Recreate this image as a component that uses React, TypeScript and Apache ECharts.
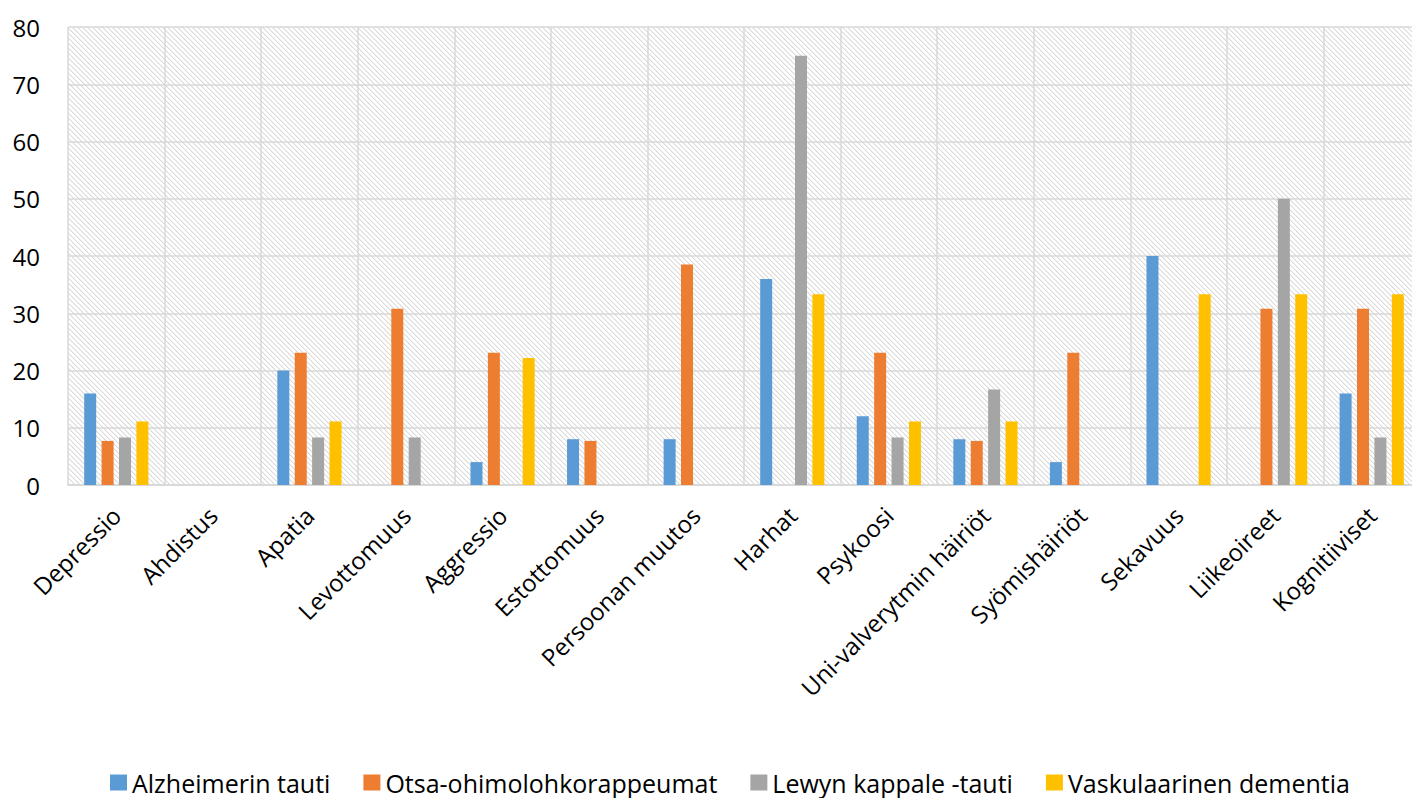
import React, { useEffect, useRef } from "react";
import * as echarts from "echarts";

const categories = [
  "Depressio",
  "Ahdistus",
  "Apatia",
  "Levottomuus",
  "Aggressio",
  "Estottomuus",
  "Persoonan muutos",
  "Harhat",
  "Psykoosi",
  "Uni-valverytmin häiriöt",
  "Syömishäiriöt",
  "Sekavuus",
  "Liikeoireet",
  "Kognitiiviset",
];

const seriesNames = [
  "Alzheimerin tauti",
  "Otsa-ohimolohkorappeumat",
  "Lewyn kappale -tauti",
  "Vaskulaarinen dementia",
];

const alzheimer = [16, 0, 20, 0, 4, 8, 8, 36, 12, 8, 4, 40, 0, 16];
const otsa = [7.7, 0, 23.1, 30.8, 23.1, 7.7, 38.5, 0, 23.1, 7.7, 23.1, 0, 30.8, 30.8];
const lewy = [8.3, 0, 8.3, 8.3, 0, 0, 0, 75, 8.3, 16.7, 0, 0, 50, 8.3];
const vaskulaarinen = [11.1, 0, 11.1, 0, 22.2, 0, 0, 33.3, 11.1, 11.1, 0, 33.3, 33.3, 33.3];

const yTicks = [0, 10, 20, 30, 40, 50, 60, 70, 80];

const colors = ["#5B9BD5", "#ED7D31", "#A5A5A5", "#FFC000"];

function makePattern(): string {
  const n = 5;
  const c = document.createElement("canvas");
  c.width = n;
  c.height = n;
  const ctx = c.getContext("2d")!;
  ctx.fillStyle = "#ffffff";
  ctx.fillRect(0, 0, n, n);
  for (let y = 0; y < n; y++) {
    for (let x = 0; x < n; x++) {
      const d = (((x - y) % n) + n) % n;
      if (d === 0) {
        ctx.fillStyle = "#dadada";
        ctx.fillRect(x, y, 1, 1);
      } else if (d === 1) {
        ctx.fillStyle = "#efefef";
        ctx.fillRect(x, y, 1, 1);
      }
    }
  }
  return c.toDataURL("image/png");
}

export default function App() {
  const ref = useRef<HTMLDivElement>(null);
  useEffect(() => {
    document.body.style.margin = "0";
    if (!ref.current) return;
    const chart = echarts.init(ref.current, null, { renderer: "svg" });
    const font = "'Open Sans', 'Noto Sans', sans-serif";
    const data = [alzheimer, otsa, lewy, vaskulaarinen];
    chart.setOption({
      animation: false,
      grid: {
        left: 68,
        top: 27,
        width: 1352,
        height: 458,
        outerBoundsMode: "none",
        containLabel: false,
        show: true,
        borderWidth: 0,
        backgroundColor: {
          image: makePattern(),
          repeat: "repeat",
          imageWidth: 5,
          imageHeight: 5,
        },
      },
      legend: {
        left: 105,
        top: 765,
        itemWidth: 17,
        itemHeight: 16,
        itemGap: 33,
        icon: "rect",
        textStyle: { fontFamily: font, fontSize: 25, color: "#000" },
        data: seriesNames,
      },
      xAxis: {
        type: "category",
        data: categories,
        axisLine: { show: true, lineStyle: { color: "#d9d9d9", width: 2 } },
        axisTick: { show: false },
        splitLine: { show: true, lineStyle: { color: "#d9d9d9", width: 1.5 } },
        axisLabel: {
          rotate: 45,
          interval: 0,
          margin: 26,
          fontFamily: font,
          fontSize: 24,
          color: "#000",
        },
      },
      yAxis: {
        type: "value",
        min: yTicks[0],
        max: yTicks[yTicks.length - 1],
        interval: 10,
        axisLine: { show: false },
        axisTick: { show: false },
        splitLine: { show: true, lineStyle: { color: "#d9d9d9", width: 1.5 } },
        axisLabel: {
          margin: 28,
          fontFamily: font,
          fontSize: 24,
          color: "#000",
        },
      },
      series: seriesNames.map((name, i) => ({
        name,
        type: "bar",
        data: data[i],
        barWidth: 12,
        barGap: "45%",
        itemStyle: { color: colors[i] },
      })),
    });
    return () => chart.dispose();
  }, []);
  return <div ref={ref} style={{ width: 1412, height: 798 }} />;
}
